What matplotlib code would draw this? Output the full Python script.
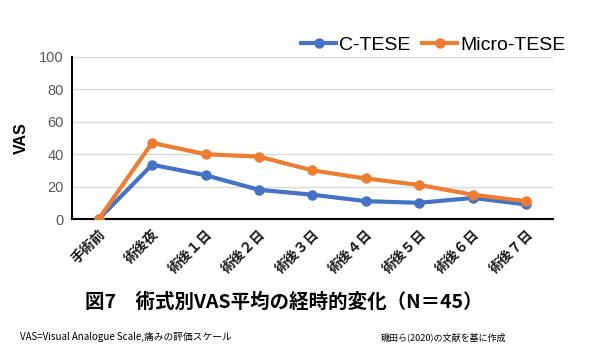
import matplotlib
matplotlib.use("Agg")
import matplotlib.pyplot as plt

plt.rcParams['font.family'] = ['Noto Sans CJK JP', 'DejaVu Sans']

categories = ['手術前', '術後夜', '術後１日', '術後２日', '術後３日', '術後４日', '術後５日', '術後６日', '術後７日']
c_tese = [0, 33.5, 27, 18, 15, 11, 10, 13, 9]
micro_tese = [0, 47, 40, 38.5, 30, 25, 21, 15, 11]
series_names = ['C-TESE', 'Micro-TESE']
yticks = [0, 20, 40, 60, 80, 100]

fig = plt.figure(figsize=(5.97, 3.53), dpi=100)
ax = fig.add_axes([0.1206, 0.3796, 0.8055, 0.459])

x = list(range(len(categories)))
ax.plot(x, c_tese, color='#4472C4', lw=3, marker='o', ms=6.5, label=series_names[0], zorder=3)
ax.plot(x, micro_tese, color='#ED7D31', lw=3, marker='o', ms=6.5, label=series_names[1], zorder=4)

ax.set_xlim(-0.5, len(categories) - 0.5)
ax.set_ylim(0, 100)
ax.set_yticks(yticks)
ax.set_yticklabels([str(v) for v in yticks], color='#595959', fontsize=10.5, family=['Liberation Sans', 'DejaVu Sans'])
ax.set_xticks(x)
ax.set_xticklabels(categories, rotation=45, ha='right', va='top', rotation_mode='anchor',
                   fontsize=10, fontweight='bold', color='#1a1a1a')
ax.tick_params(axis='x', length=0, pad=6)
ax.tick_params(axis='y', length=0, pad=6)
ax.grid(axis='y', color='#D9D9D9', lw=1)
ax.set_axisbelow(True)
for s in ['top', 'right']:
    ax.spines[s].set_visible(False)
ax.spines['left'].set_color('black')
ax.spines['left'].set_linewidth(1.5)
ax.spines['bottom'].set_color('black')
ax.spines['bottom'].set_linewidth(1.5)

ax.set_ylabel('VAS', fontsize=11.5, fontweight='bold', labelpad=7, family=['Liberation Sans', 'DejaVu Sans'])

leg = ax.legend(loc='center right', bbox_to_anchor=(1.062, 1.075), ncol=2, frameon=False,
                handlelength=1.8, handletextpad=0.15, columnspacing=0.6,
                prop={'family': ['Liberation Sans', 'DejaVu Sans'], 'size': 14})

fig.text(0.475, 0.145, '図7　術式別VAS平均の経時的変化（N＝45）', ha='center', va='center',
         fontsize=14, fontweight='bold')
fig.text(0.033, 0.045, 'VAS=Visual Analogue Scale,痛みの評価スケール', ha='left', va='center', fontsize=7)
fig.text(0.848, 0.045, '磯田ら(2020)の文献を基に作成', ha='right', va='center', fontsize=6.5)

fig.savefig('out.png', dpi=100)
